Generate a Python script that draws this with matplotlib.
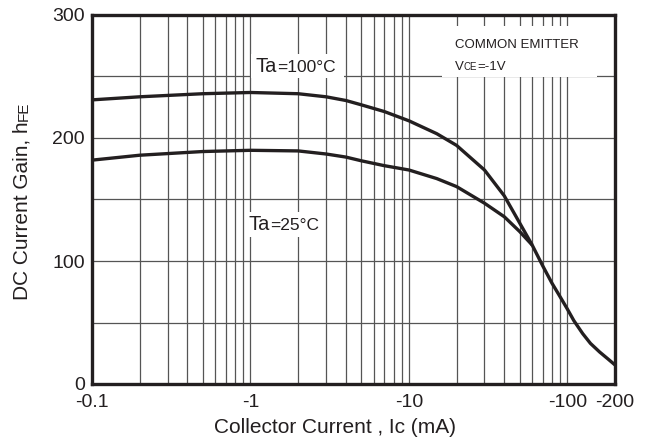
import matplotlib
matplotlib.use("Agg")
import matplotlib.pyplot as plt
from matplotlib.ticker import FixedLocator, NullFormatter, LogLocator
from matplotlib.patches import Rectangle
from matplotlib.transforms import Bbox

plt.rcParams['font.family'] = ['Liberation Sans', 'DejaVu Sans']

# Data (collector current in mA, magnitude; hFE)
ic_100 = [0.1, 0.2, 0.5, 1, 2, 3, 4, 5, 7, 10, 15, 20, 30, 40, 50, 60, 70, 80, 90, 100,
          110, 125, 140, 160, 180, 200]
hfe_100 = [231, 233.5, 236, 237, 236, 233.5, 230.5, 227, 221.5, 214, 203.5, 194, 174, 153, 131, 113, 96, 82, 71, 61,
           51.5, 41, 33, 26, 20.5, 15.5]

ic_25 = [0.1, 0.2, 0.5, 1, 2, 3, 4, 5, 7, 10, 15, 20, 30, 40, 50, 60]
hfe_25 = [182, 186, 189, 190, 189.5, 187, 184.5, 181.5, 177.5, 174, 167, 160.5, 147, 136, 124, 113]

x_ticks = [0.1, 1, 10, 100, 200]
x_ticklabels = ["-0.1", "-1", "-10", "-100", "-200"]
y_ticks = [0, 100, 200, 300]
y_minor = [50, 150, 250]

ink = '#231f20'
gridc = '#555555'

fig = plt.figure(figsize=(6.48, 4.41), dpi=100)
ax = fig.add_axes([92/648, 1-384/441, (615-92)/648, (384-15)/441])

ax.set_xscale('log')
ax.set_xlim(0.1, 200)
ax.set_ylim(0, 300)

ax.xaxis.set_major_locator(FixedLocator(x_ticks))
ax.set_xticklabels(x_ticklabels)
ax.xaxis.set_minor_locator(LogLocator(base=10, subs=[2, 3, 4, 5, 6, 7, 8, 9], numticks=20))
ax.xaxis.set_minor_formatter(NullFormatter())
ax.yaxis.set_major_locator(FixedLocator(y_ticks))
ax.yaxis.set_minor_locator(FixedLocator(y_minor))

ax.tick_params(which='both', length=0)
ax.tick_params(axis='x', which='major', pad=7, labelsize=14, labelcolor=ink)
ax.tick_params(axis='y', which='major', pad=5, labelsize=14, labelcolor=ink)

ax.grid(True, which='both', axis='both', color=gridc, lw=0.9, zorder=0)
ax.set_axisbelow(True)

for s in ax.spines.values():
    s.set_linewidth(2.4)
    s.set_color(ink)

ax.plot(ic_100, hfe_100, color=ink, lw=2.4, solid_capstyle='butt', solid_joinstyle='round', zorder=3)
ax.plot(ic_25, hfe_25, color=ink, lw=2.4, solid_capstyle='butt', solid_joinstyle='round', zorder=3)

# Curve labels
t1 = ax.text(1.075, 253.5, "Ta", fontsize=14.5, color=ink, ha='left', va='baseline', zorder=4)
t1b = ax.annotate("=100°C", xy=(1, 253.5), xycoords=(t1, 'data'), fontsize=12.5, color=ink,
                  ha='left', va='baseline', zorder=4, annotation_clip=False)

t2 = ax.text(0.971, 125.2, "Ta", fontsize=14.5, color=ink, ha='left', va='baseline', zorder=4)
t2b = ax.annotate("=25°C", xy=(1, 125.2), xycoords=(t2, 'data'), fontsize=12.5, color=ink,
                  ha='left', va='baseline', zorder=4, annotation_clip=False)

# Condition box
ax.add_patch(Rectangle((0.669, 0.832), 0.297, 0.138, transform=ax.transAxes,
                       facecolor='white', edgecolor='none', zorder=2))
ax.text(0.694, 0.911, "COMMON EMITTER", transform=ax.transAxes, fontsize=9.5, color=ink,
        ha='left', va='baseline', zorder=4)
tv = ax.text(0.694, 0.851, "V", transform=ax.transAxes, fontsize=9.5, color=ink,
             ha='left', va='baseline', zorder=4)
tce = ax.annotate("CE", xy=(1, 0.851), xycoords=(tv, 'axes fraction'), fontsize=7, color=ink,
                  ha='left', va='baseline', zorder=4, annotation_clip=False)
ax.annotate("=-1V", xy=(1, 0.851), xycoords=(tce, 'axes fraction'), fontsize=9.5, color=ink,
            ha='left', va='baseline', zorder=4, annotation_clip=False)

# Axis labels
fig.text(335/648, 1-433/441, "Collector Current , Ic (mA)", fontsize=15, color=ink,
         ha='center', va='baseline')
ty = fig.text(28/648, 1-300/441, "DC Current Gain, h", fontsize=15, color=ink, rotation=90,
              rotation_mode='anchor', ha='left', va='baseline')
ax.annotate("FE", xy=(28/648, 1), xycoords=('figure fraction', ty), fontsize=11, color=ink,
            rotation=90, rotation_mode='anchor', ha='left', va='baseline', annotation_clip=False)

# White backgrounds behind the curve labels
fig.canvas.draw()
rend = fig.canvas.get_renderer()


def white_box(artists, pl, pr, pb, pt):
    bb = Bbox.union([a.get_window_extent(rend) for a in artists])
    inv = ax.transAxes.inverted()
    (x0, y0), (x1, y1) = inv.transform([[bb.x0 - pl, bb.y0 - pb], [bb.x1 + pr, bb.y1 + pt]])
    ax.add_patch(Rectangle((x0, y0), x1 - x0, y1 - y0, transform=ax.transAxes,
                           facecolor='white', edgecolor='none', zorder=2.5))


white_box([t1, t1b], 4, 9, 2, 3)
white_box([t2, t2b], 3, 3, 3, 3)

fig.savefig("out.png", dpi=100)
